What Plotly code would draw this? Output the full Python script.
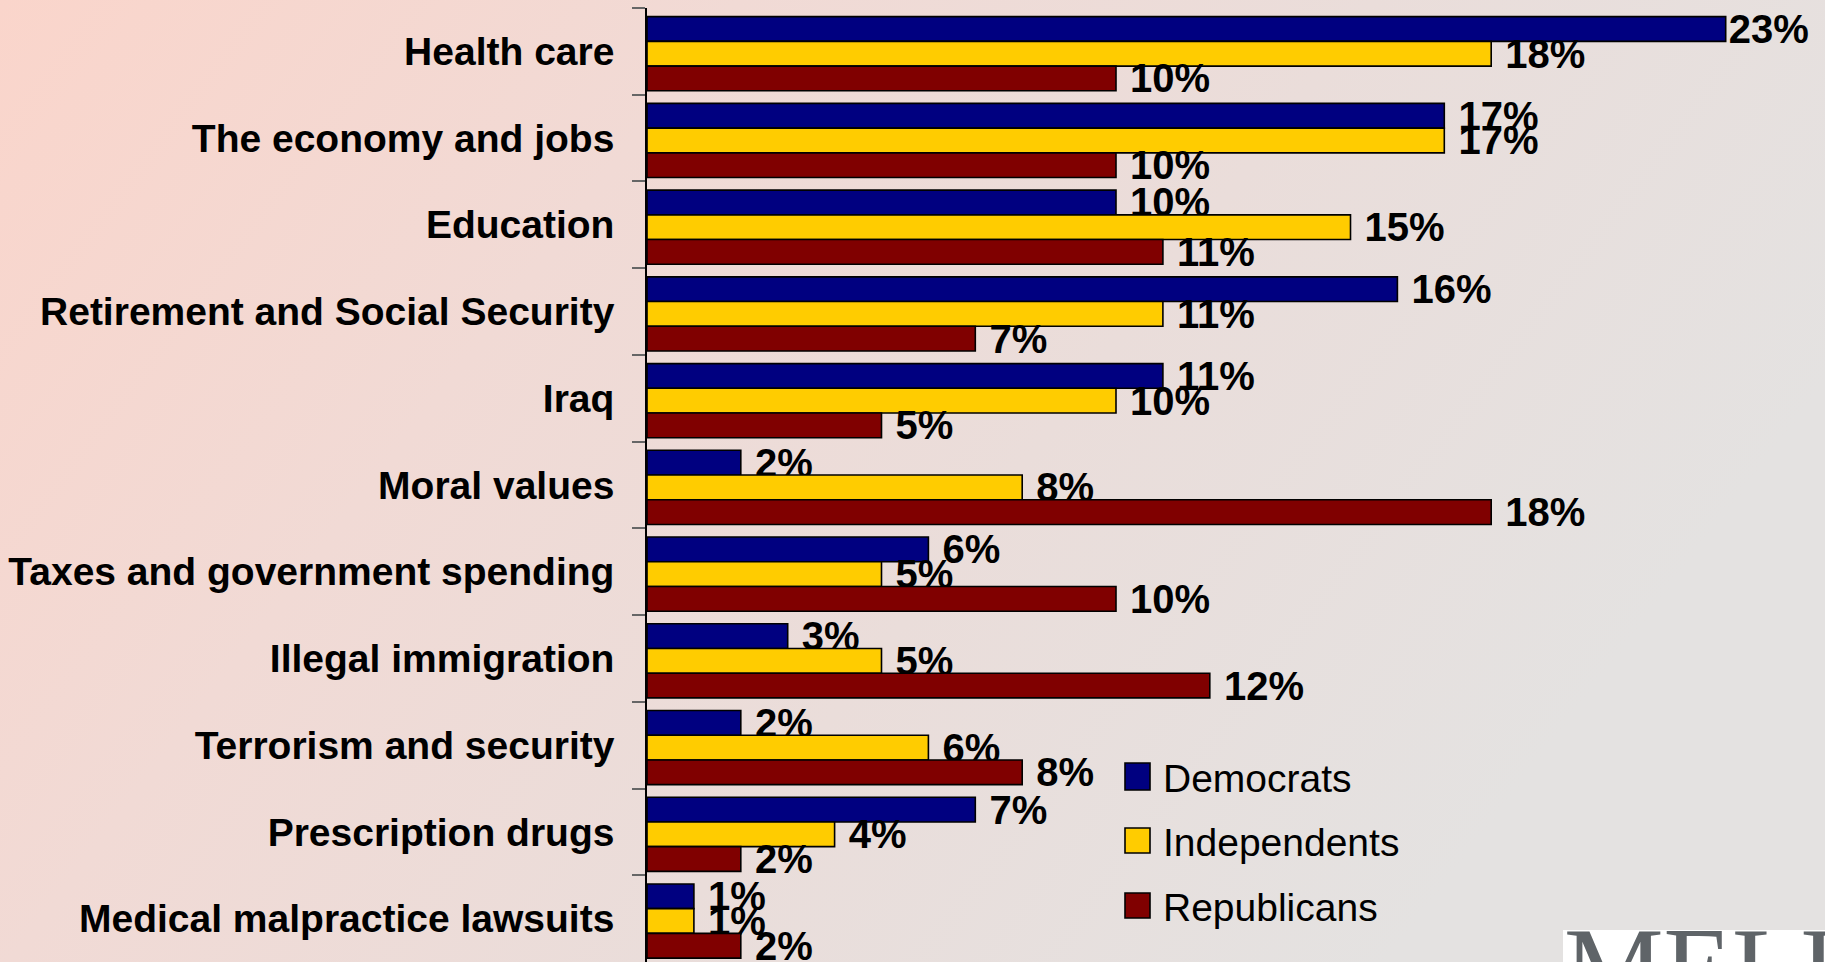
import base64
import plotly.graph_objects as go

# ---------------- data ----------------
categories = [
    "Health care",
    "The economy and jobs",
    "Education",
    "Retirement and Social Security",
    "Iraq",
    "Moral values",
    "Taxes and government spending",
    "Illegal immigration",
    "Terrorism and security",
    "Prescription drugs",
    "Medical malpractice lawsuits",
]
democrats = [23, 17, 10, 16, 11, 2, 6, 3, 2, 7, 1]
independents = [18, 17, 15, 11, 10, 8, 5, 5, 6, 4, 1]
republicans = [10, 10, 11, 7, 5, 18, 10, 12, 8, 2, 2]
series_names = ["Democrats", "Independents", "Republicans"]
series_values = [democrats, independents, republicans]
series_colors = ["#000080", "#FFCC00", "#800000"]

# ---------------- geometry ----------------
W, H = 1825, 962
ML, MR, MT, MB = 647, 0, 8, 0
PW, PH = W - ML - MR, H - MT - MB
PX_PER_PCT = 46.9
LABEL_SIZE = 40


def px_x(px):
    return (px - ML) / PW


def px_y(py):
    return (H - MB - py) / PH


def label_for(v):
    # labels that would run into the right edge are pulled back onto the bar end
    txt = f"{v}%"
    est_w = LABEL_SIZE * (0.556 * len(str(v)) + 0.889)
    if v * PX_PER_PCT + 14 + est_w > PW - 8:
        return txt
    return "\u00a0" + txt


bar_w = 0.285
offsets = [-0.40, -0.115, 0.17]

fig = go.Figure()
for name, vals, col, off in zip(series_names, series_values, series_colors, offsets):
    fig.add_trace(go.Bar(
        name=name,
        y=categories,
        x=vals,
        orientation="h",
        width=bar_w,
        offset=off,
        marker=dict(color=col, line=dict(color="black", width=1.6)),
        text=[label_for(v) for v in vals],
        textposition="outside",
        constraintext="none",
        cliponaxis=False,
        textfont=dict(family="Liberation Sans, Arial, sans-serif", size=LABEL_SIZE,
                      color="black", weight="bold"),
        showlegend=False,
        hoverinfo="x+y+name",
    ))

# ---------------- background gradient ----------------
svg = (
    "<svg xmlns='http://www.w3.org/2000/svg' width='1825' height='962' "
    "preserveAspectRatio='none' viewBox='0 0 1825 962'>"
    "<defs><linearGradient id='g' x1='0' y1='0' x2='1' y2='0.4'>"
    "<stop offset='0' stop-color='#FAD5CB'/>"
    "<stop offset='0.35' stop-color='#F1DAD5'/>"
    "<stop offset='0.65' stop-color='#EADDDA'/>"
    "<stop offset='1' stop-color='#E4E2E1'/>"
    "</linearGradient></defs>"
    "<rect width='1825' height='962' fill='url(#g)'/></svg>"
)
svg_uri = "data:image/svg+xml;base64," + base64.b64encode(svg.encode()).decode()

images = [dict(
    source=svg_uri, xref="paper", yref="paper",
    x=px_x(0), y=px_y(0), sizex=W / PW, sizey=H / PH,
    xanchor="left", yanchor="top", sizing="stretch", layer="below",
)]

# ---------------- manual legend ----------------
shapes = []
annotations = []
legend_rows = [(763, 790), (828, 853), (893, 918)]
for name, col, (y0, y1) in zip(series_names, series_colors, legend_rows):
    shapes.append(dict(
        type="rect", xref="paper", yref="paper",
        x0=px_x(1125), x1=px_x(1150), y0=px_y(y1), y1=px_y(y0),
        fillcolor=col, line=dict(color="black", width=1.6), layer="above",
    ))
    annotations.append(dict(
        text=name, xref="paper", yref="paper",
        x=px_x(1161), y=px_y((y0 + y1) / 2 + 2), xanchor="left", yanchor="middle",
        showarrow=False,
        font=dict(family="Liberation Sans, Arial, sans-serif", size=39, color="black"),
    ))

# ---------------- logo (cut off at bottom) ----------------
shapes.append(dict(
    type="rect", xref="paper", yref="paper",
    x0=px_x(1563), x1=px_x(1830), y0=px_y(975), y1=px_y(930),
    fillcolor="white", line=dict(width=0), layer="above",
))
annotations.append(dict(
    text="MELLMAN", xref="paper", yref="paper",
    x=px_x(1562), y=px_y(903), xanchor="left", yanchor="top",
    showarrow=False,
    font=dict(family="Liberation Serif, Times New Roman, serif", size=112, color="#5F6468"),
))

fig.update_layout(
    width=W, height=H,
    margin=dict(l=ML, r=MR, t=MT, b=MB, pad=0),
    barmode="group",
    paper_bgcolor="#EEDCD8",
    plot_bgcolor="rgba(0,0,0,0)",
    images=images,
    shapes=shapes,
    annotations=annotations,
    showlegend=False,
    xaxis=dict(visible=False, range=[0, PW / PX_PER_PCT], fixedrange=True),
    yaxis=dict(
        type="category",
        categoryorder="array",
        categoryarray=categories,
        range=[len(categories) - 0.5, -0.5],
        automargin=False,
        showline=True, linecolor="black", linewidth=1.6,
        ticks="outside", tickson="boundaries", ticklen=13, tickwidth=1.5,
        tickcolor="#666666",
        ticklabelstandoff=23,
        showgrid=False, zeroline=False,
        tickfont=dict(family="Liberation Sans, Arial, sans-serif", size=39,
                      color="black", weight="bold"),
        fixedrange=True,
    ),
)

fig.write_html(
    "out.html",
    config={"displayModeBar": False},
    post_script=(
        "document.body.style.margin='0';"
        "document.body.style.padding='0';"
        "document.body.style.overflow='hidden';"
        "document.body.style.background='#EEDCD8';"
    ),
)
